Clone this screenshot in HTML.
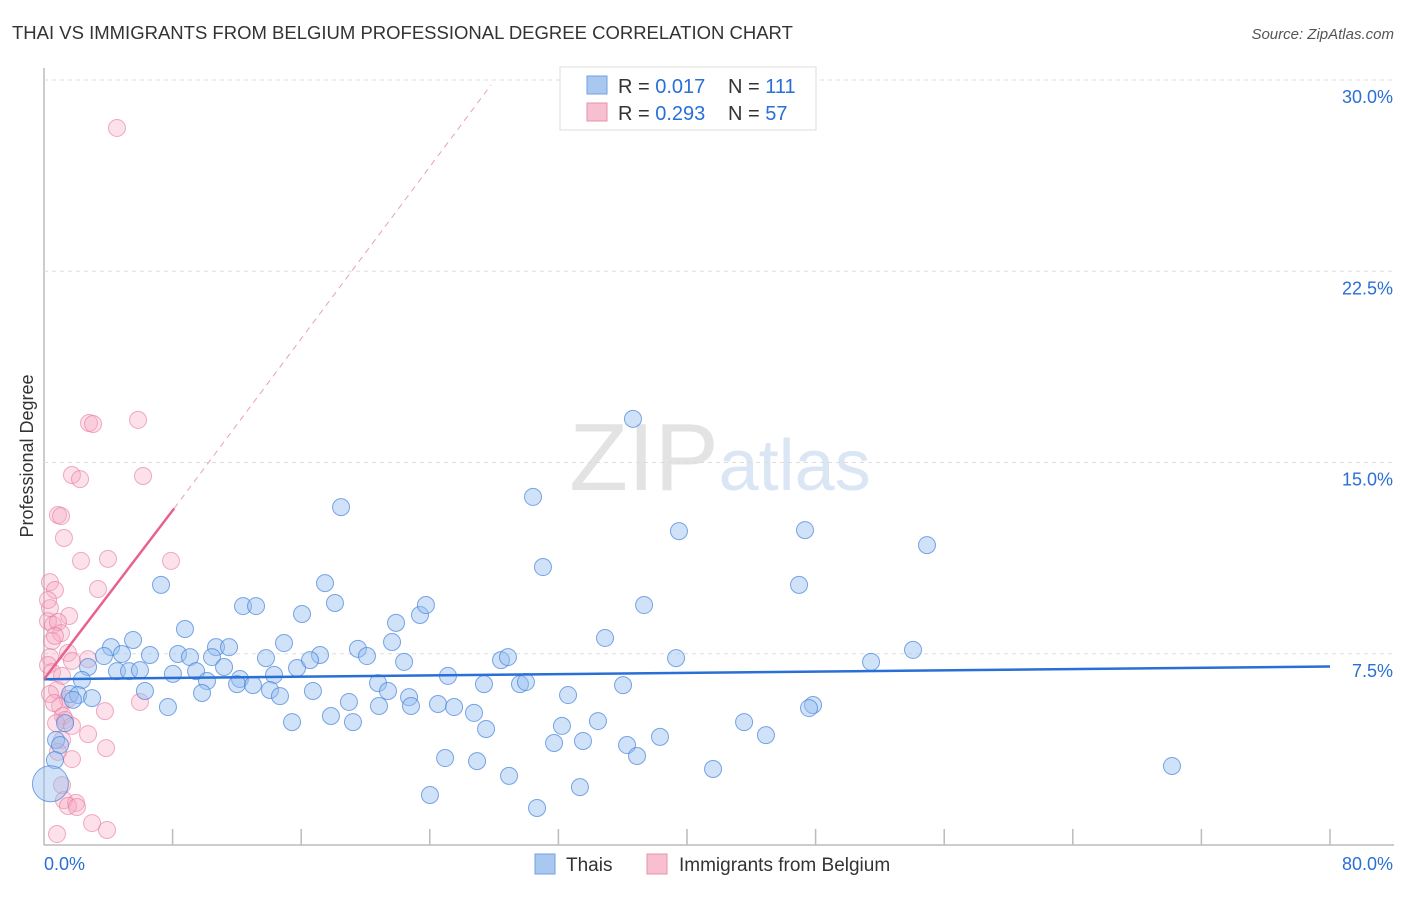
<!DOCTYPE html>
<html><head><meta charset="utf-8"><style>
body{margin:0;background:#fff;font-family:"Liberation Sans",sans-serif}
svg text{font-family:"Liberation Sans",sans-serif}
</style></head><body>
<svg id="c" width="1406" height="892" xmlns="http://www.w3.org/2000/svg">
<text x="12" y="39" font-size="18.5" fill="#333">THAI VS IMMIGRANTS FROM BELGIUM PROFESSIONAL DEGREE CORRELATION CHART</text>
<text x="1394" y="39" font-size="15" fill="#555" font-style="italic" text-anchor="end">Source: ZipAtlas.com</text>
<text x="720" y="490" font-size="96" fill="#e6e6e6" text-anchor="middle" font-family="Liberation Serif"><tspan fill="#e3e3e3">ZIP</tspan><tspan fill="#dbe6f5" font-family="Liberation Sans" font-size="72">atlas</tspan></text>
<text transform="translate(33,456) rotate(-90)" font-size="18" fill="#333" text-anchor="middle">Professional Degree</text>
<g id="grid"></g><g id="pts"></g><g id="lines"></g>
<g>
<rect x="560" y="67" width="256" height="63" fill="#fff" stroke="#ddd"/>
<rect x="587" y="76" width="20" height="18" fill="#a8c8f0" stroke="#6fa0e0"/>
<rect x="587" y="103" width="20" height="18" fill="#f7bfd0" stroke="#e890aa"/>
<text x="618" y="93" font-size="20" fill="#333">R = <tspan fill="#2a6fd6">0.017</tspan></text>
<text x="728" y="93" font-size="20" fill="#333">N = <tspan fill="#2a6fd6">111</tspan></text>
<text x="618" y="120" font-size="20" fill="#333">R = <tspan fill="#2a6fd6">0.293</tspan></text>
<text x="728" y="120" font-size="20" fill="#333">N = <tspan fill="#2a6fd6">57</tspan></text>
</g>
<g>
<rect x="535" y="854" width="20" height="20" fill="#a8c8f0" stroke="#6fa0e0"/>
<text x="566" y="871" font-size="19" fill="#333">Thais</text>
<rect x="647" y="854" width="20" height="20" fill="#f7bfd0" stroke="#e890aa"/>
<text x="679" y="871" font-size="19" fill="#333">Immigrants from Belgium</text>
</g>
</svg>
<script>
const yTicks=[7.5,15,22.5,30];
const xTickLabels=["0.0%","80.0%"];
const blueX=[],blueY=[],pinkX=[],pinkY=[];
const bluePx=[[533,497],[633,419],[341,507],[679,531],[805,530],[927,545],[543,567],[161,585],[325,583],[799,585],[243,606],[256,606],[302,614],[335,603],[420,615],[426,605],[644,605],[185,629],[396,623],[133,640],[605,638],[284,643],[392,642],[111,647],[216,647],[229,647],[104,656],[122,654],[150,655],[178,654],[190,657],[212,657],[266,658],[320,655],[358,649],[367,656],[404,662],[501,660],[508,657],[676,658],[871,662],[913,650],[88,667],[117,671],[129,671],[140,670],[173,674],[196,671],[224,667],[240,679],[274,675],[297,668],[310,660],[448,676],[82,680],[207,681],[237,684],[253,685],[378,683],[484,684],[520,684],[526,682],[623,685],[70,694],[78,695],[92,698],[145,691],[202,693],[270,690],[280,696],[313,691],[388,691],[409,697],[568,695],[168,707],[349,702],[379,706],[411,706],[438,704],[454,707],[474,713],[813,705],[809,708],[73,700],[292,722],[331,716],[353,722],[486,729],[598,721],[562,726],[744,722],[65,723],[56,740],[554,743],[583,741],[627,745],[660,737],[766,735],[445,758],[477,761],[637,756],[713,769],[1172,766],[509,776],[580,787],[430,795],[537,808],[60,745],[55,760]];
const pinkPx=[[117,128],[89,423],[93,424],[138,420],[72,475],[80,479],[143,476],[58,515],[61,516],[64,538],[81,561],[108,559],[171,561],[50,582],[55,590],[98,589],[50,608],[69,616],[48,621],[53,625],[58,622],[61,633],[52,641],[68,653],[50,657],[72,661],[88,659],[48,665],[52,672],[62,676],[57,690],[50,694],[68,699],[60,706],[54,703],[140,702],[105,711],[63,716],[65,720],[56,723],[72,726],[88,734],[62,740],[106,748],[58,752],[72,759],[62,785],[64,800],[76,803],[68,806],[77,807],[92,823],[107,830],[57,834],[55,636],[48,600]];
bluePx.forEach(p=>{blueX.push(+((p[0]-44)/16.075).toFixed(2));blueY.push(+((845-p[1])/25.5).toFixed(2));});
pinkPx.forEach(p=>{pinkX.push(+((p[0]-44)/16.075).toFixed(2));pinkY.push(+((845-p[1])/25.5).toFixed(2));});
const ns="http://www.w3.org/2000/svg";
const X=v=>44+v/80*1286, Y=v=>845-v*25.5;
function mk(t,a,par){const e=document.createElementNS(ns,t);for(const k in a)e.setAttribute(k,a[k]);document.getElementById(par).appendChild(e);return e;}
const g='grid';
let e=mk('line',{x1:44,y1:68,x2:44,y2:845,stroke:'#bbb','stroke-width':1.5},g);

e=mk('line',{x1:44,y1:845,x2:1394,y2:845,stroke:'#bbb','stroke-width':1.5},g);

for(let i=1;i<=10;i++){e=mk('line',{x1:X(i*8),y1:829,x2:X(i*8),y2:845,stroke:'#bbb','stroke-width':1.5},g);
}
yTicks.forEach(t=>{e=mk('line',{x1:44,y1:Y(t),x2:1394,y2:Y(t),stroke:'#ddd','stroke-dasharray':'4,4'},g);

e=mk('text',{x:1393,y:Y(t)+23,'font-size':18,fill:'#2a6fd6','text-anchor':'end'},g);e.textContent=t.toFixed(1)+'%';
});
e=mk('text',{x:44,y:870,'font-size':18,fill:'#2a6fd6'},g);e.textContent=xTickLabels[0];

e=mk('text',{x:1393,y:870,'font-size':18,fill:'#2a6fd6','text-anchor':'end'},g);e.textContent=xTickLabels[1];

pinkX.forEach((v,i)=>{e=mk('circle',{cx:X(v),cy:Y(pinkY[i]),r:8.5,fill:'rgba(245,170,195,0.35)',stroke:'rgba(230,120,155,0.6)'},'pts');
});
blueX.forEach((v,i)=>{e=mk('circle',{cx:X(v),cy:Y(blueY[i]),r:8.5,fill:'rgba(150,190,240,0.45)',stroke:'rgba(70,130,220,0.7)'},'pts');
});
e=mk('circle',{cx:X(0.4),cy:Y(2.4),r:18,fill:'rgba(150,190,240,0.45)',stroke:'rgba(70,130,220,0.7)'},'pts');

e=mk('line',{x1:X(0),y1:Y(6.5),x2:X(80),y2:Y(7.0),stroke:'#2a6fd6','stroke-width':2.5},'lines');

e=mk('line',{x1:X(0),y1:Y(6.5),x2:X(8.1),y2:Y(13.2),stroke:'#e8628e','stroke-width':2.5},'lines');

e=mk('line',{x1:X(8.1),y1:Y(13.2),x2:X(27.8),y2:Y(29.8),stroke:'#e8a0b8','stroke-width':1,'stroke-dasharray':'6,5'},'lines');

</script>
</body></html>
